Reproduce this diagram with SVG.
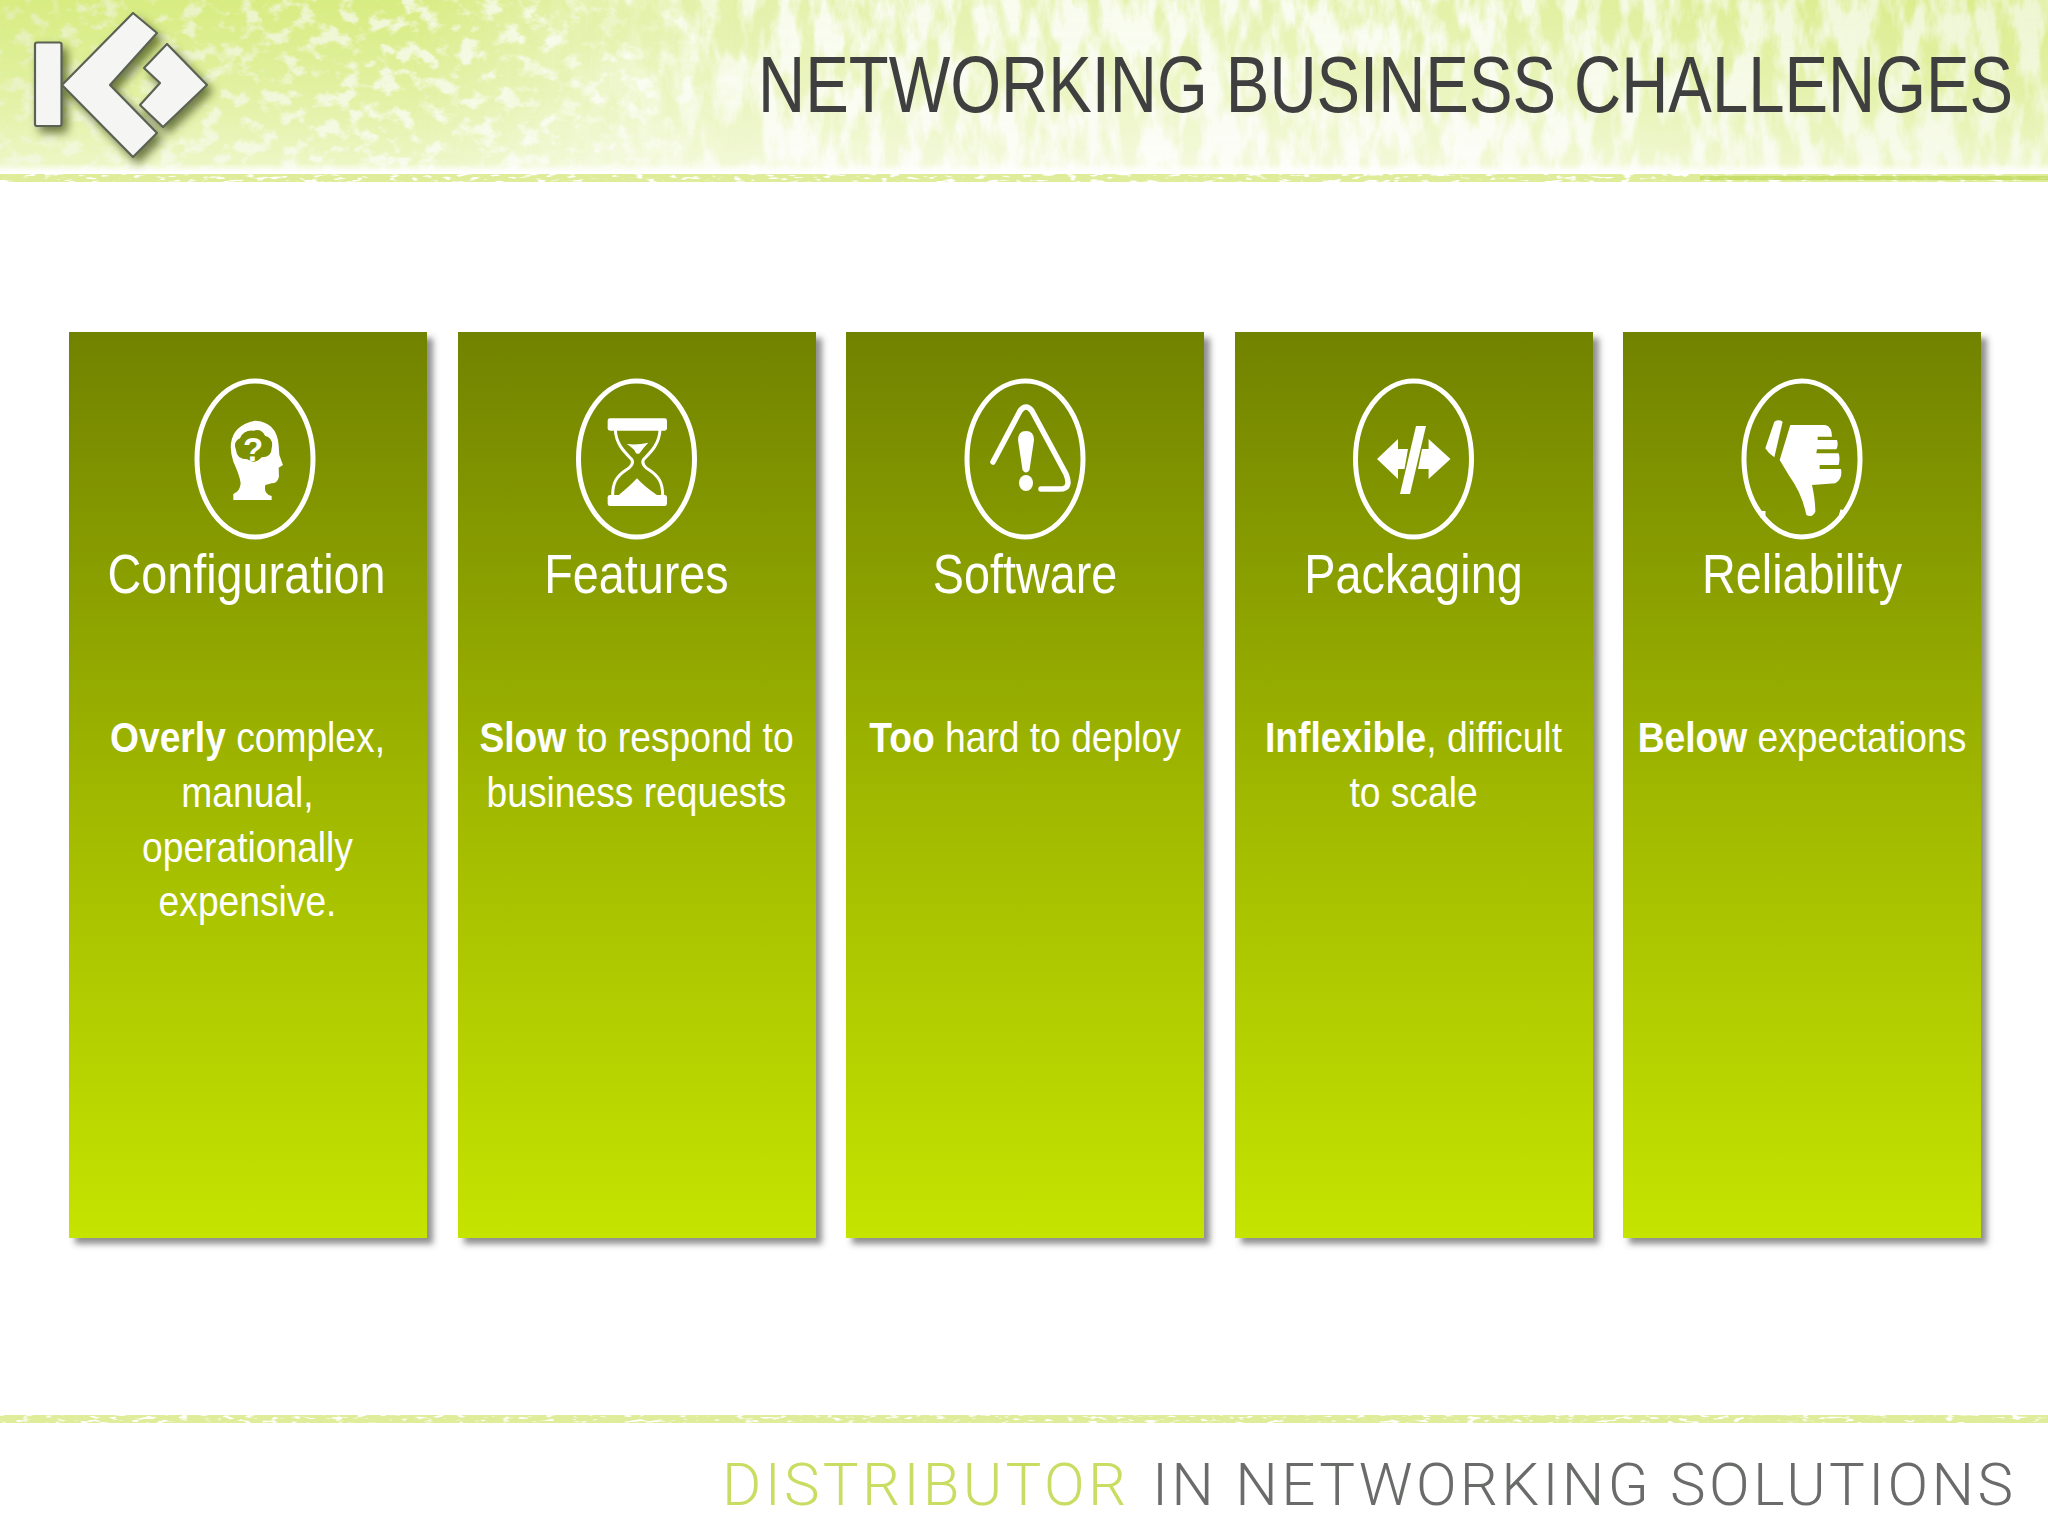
<svg xmlns="http://www.w3.org/2000/svg" width="2048" height="1536" viewBox="0 0 2048 1536">
<style>
text{font-family:"Liberation Sans",Arial,sans-serif;fill:#fff}
.h{font-size:55px;text-anchor:middle}
.b{font-size:42px;text-anchor:middle}
.b tspan{font-weight:700}
.card{fill:url(#cardGrad);filter:url(#cardShadow)}
.ring{fill:none;stroke:#fff;stroke-width:5}
.line{fill:none;stroke:#fff;stroke-linecap:round;stroke-linejoin:round}
.ico{fill:#fff}
.foot{font-family:"Roboto","Liberation Sans",sans-serif;font-weight:300;font-size:60px}
.logo{fill:#f5f5f4;stroke:#5c6252;stroke-width:2.2;stroke-linejoin:round}
</style>
<defs>
<linearGradient id="cardGrad" x1="0" y1="0" x2="0" y2="1"><stop offset="0" stop-color="#718200"/><stop offset=".5" stop-color="#9fb700"/><stop offset="1" stop-color="#c5e400"/></linearGradient>
<filter id="cardShadow" x="-5%" y="-5%" width="112%" height="110%"><feDropShadow dx="6" dy="6" stdDeviation="3" flood-color="#444" flood-opacity=".6"/></filter>
<filter id="logoShadow" x="-20%" y="-20%" width="150%" height="150%"><feDropShadow dx="5" dy="6" stdDeviation="5" flood-color="#44521a" flood-opacity=".75"/></filter>
<filter id="texA" x="0" y="0" width="100%" height="100%"><feTurbulence type="fractalNoise" baseFrequency=".05 .065" numOctaves="4" seed="7"/><feColorMatrix values="0 0 0 0 .68 0 0 0 0 .84 0 0 0 0 .22 5 0 0 0 -1.55"/></filter>
<filter id="texB" x="0" y="0" width="100%" height="100%"><feTurbulence type="fractalNoise" baseFrequency=".05 .018" numOctaves="4" seed="21"/><feColorMatrix values="0 0 0 0 .7 0 0 0 0 .84 0 0 0 0 .25 4 0 0 0 -1.5"/></filter>
<filter id="texL" x="0" y="0" width="100%" height="100%"><feTurbulence type="fractalNoise" baseFrequency=".09 .3" numOctaves="2" seed="4"/><feColorMatrix values="0 0 0 0 .74 0 0 0 0 .85 0 0 0 0 .33 7 0 0 0 -2"/></filter>
<linearGradient id="fadeA" x1="0" y1="0" x2="1" y2="0"><stop offset="0" stop-color="#fff"/><stop offset=".2" stop-color="#fff"/><stop offset=".38" stop-color="#000"/></linearGradient>
<linearGradient id="fadeB" x1="0" y1="0" x2="1" y2="0"><stop offset=".2" stop-color="#000"/><stop offset=".36" stop-color="#aaa"/><stop offset=".6" stop-color="#999"/><stop offset="1" stop-color="#fff"/></linearGradient>
<linearGradient id="fadeV" x1="0" y1="0" x2="0" y2="1"><stop offset="0" stop-color="#fff"/><stop offset=".55" stop-color="#bbb"/><stop offset=".95" stop-color="#777"/><stop offset="1" stop-color="#000"/></linearGradient>
<linearGradient id="tint" x1="0" y1="0" x2="1" y2="0"><stop offset="0" stop-color="#c4df62" stop-opacity=".5"/><stop offset=".3" stop-color="#c4df62" stop-opacity=".12"/><stop offset=".7" stop-color="#c4df62" stop-opacity=".1"/><stop offset="1" stop-color="#c4df62" stop-opacity=".3"/></linearGradient>
<mask id="mA" maskUnits="userSpaceOnUse" x="0" y="0" width="2048" height="172"><rect width="2048" height="172" fill="url(#fadeA)"/></mask>
<mask id="mB" maskUnits="userSpaceOnUse" x="0" y="0" width="2048" height="172"><rect width="2048" height="172" fill="url(#fadeB)"/></mask>
<mask id="mV" maskUnits="userSpaceOnUse" x="0" y="0" width="2048" height="172"><rect width="2048" height="172" fill="url(#fadeV)"/></mask>
</defs>
<rect width="2048" height="1536" fill="#fff"/>
<g id="banner">
<g mask="url(#mV)">
<rect width="2048" height="172" fill="url(#tint)"/>
<rect width="2048" height="172" filter="url(#texA)" mask="url(#mA)"/>
<rect width="2048" height="172" filter="url(#texB)" mask="url(#mB)"/>
</g>
<rect y="174" width="2048" height="8" filter="url(#texL)"/>
<rect x="1700" y="176" width="348" height="4" fill="#bcd855" opacity=".7"/>
</g>
<g id="logo">
<g filter="url(#logoShadow)">
<rect class="logo" x="35" y="42.5" width="26.5" height="83.5" rx="2"/>
<path class="logo" d="M133,13 L157,33 L110,85 L157,133 L133,157 L62,85 Z"/>
<path class="logo" d="M167,44 L207,85 L163,127 L140,105 L160,83 L144,68 Z"/>
</g>
</g>
<text id="title" transform="translate(2013,112) scale(.816,1)" text-anchor="end" style="font-size:80px;fill:#3f3f3f">NETWORKING BUSINESS CHALLENGES</text>
<g id="card-configuration">
<rect class="card" x="69" y="332" width="358" height="906"/>
<ellipse class="ring" cx="255" cy="459" rx="58" ry="78"/>
<g transform="translate(190,370) scale(.3333)">
<path class="ico" fill-rule="evenodd" d="M130,390 L130,372 Q150,365 152,340 Q150,318 130,275 Q120,245 123,220 Q130,165 195,152 Q260,155 266,225 L268,255 L279,285 L266,293 L267,320 Q262,340 245,340 L226,345 Q220,372 245,378 L245,390 Z M190,182 Q215,175 225,197 Q252,205 245,235 Q245,262 215,262 Q195,285 172,268 Q140,268 138,240 Q128,215 150,205 Q160,180 190,182 Z"/>
</g>
<text x="253" y="461" text-anchor="middle" style="font-size:33px;font-weight:700">?</text>
<text class="h" transform="translate(246.5,593) scale(.85,1)">Configuration</text>
<text class="b" transform="translate(247.5,752) scale(.886,1)"><tspan>Overly</tspan> complex,</text>
<text class="b" transform="translate(247.5,807) scale(.886,1)">manual,</text>
<text class="b" transform="translate(247.5,862) scale(.886,1)">operationally</text>
<text class="b" transform="translate(247.5,916) scale(.886,1)">expensive.</text>
</g>
<g id="card-features">
<rect class="card" x="458" y="332" width="358" height="906"/>
<ellipse class="ring" cx="636.5" cy="459" rx="58" ry="78"/>
<g transform="translate(571,370) scale(.3333)">
<rect class="ico" x="110" y="145" width="178" height="37" rx="7"/>
<rect class="ico" x="110" y="375" width="178" height="33" rx="7"/>
<path class="line" stroke-width="9" d="M133,180 C135,225 165,250 182,268 C190,280 178,293 165,300 C135,320 125,340 125,376 M267,180 C265,225 235,250 218,268 C210,280 222,293 235,300 C265,320 275,340 275,376"/>
<path class="ico" d="M167,222 Q200,226 232,218 Q215,235 206,250 Q196,256 190,240 Q178,228 167,222 Z"/>
<path class="ico" d="M140,378 Q180,345 198,325 Q220,350 262,378 Z"/>
</g>
<text class="h" transform="translate(636.5,593) scale(.85,1)">Features</text>
<text class="b" transform="translate(636.5,752) scale(.886,1)"><tspan>Slow</tspan> to respond to</text>
<text class="b" transform="translate(636.5,807) scale(.886,1)">business requests</text>
</g>
<g id="card-software">
<rect class="card" x="846" y="332" width="358" height="906"/>
<ellipse class="ring" cx="1025" cy="459" rx="58" ry="78"/>
<path class="line" stroke-width="5.5" d="M993,462 L1020,411 Q1026,403 1032,411 L1066,474 Q1072,489 1060,489 L1041,489"/>
<path class="ico" d="M1018,440 Q1018,431 1026,431 Q1034,431 1034,440 L1029.5,470 Q1026,475 1022.5,470 Z"/>
<ellipse class="ico" cx="1026" cy="483" rx="7" ry="8"/>
<text class="h" transform="translate(1025,593) scale(.85,1)">Software</text>
<text class="b" transform="translate(1025,752) scale(.886,1)"><tspan>Too</tspan> hard to deploy</text>
</g>
<g id="card-packaging">
<rect class="card" x="1235" y="332" width="358" height="906"/>
<ellipse class="ring" cx="1413.5" cy="459" rx="58" ry="78"/>
<path class="ico" d="M1416,426 L1426,426 L1410,494 L1400,494 Z"/>
<path class="ico" d="M1377,459 L1398,439 L1398,449 L1408,449 L1404.5,469 L1398,469 L1398,479 Z"/>
<path class="ico" d="M1450.5,459 L1428.6,439 L1428.6,449 L1422,449 L1418,469 L1428.6,469 L1428.6,479 Z"/>
<text class="h" transform="translate(1413.5,593) scale(.85,1)">Packaging</text>
<text class="b" transform="translate(1413.5,752) scale(.886,1)"><tspan>Inflexible</tspan>, difficult</text>
<text class="b" transform="translate(1413.5,807) scale(.886,1)">to scale</text>
</g>
<g id="card-reliability">
<rect class="card" x="1623" y="332" width="358" height="906"/>
<path class="ring" d="M1763,511 L1763,516.7 A58,78 0 0 0 1841,516.7 L1843,510"/>
<path class="ring" d="M1763,516.7 A58,78 0 1 1 1841,516.7"/>
<g transform="translate(1737,370) scale(.3333)">
<path class="ico" d="M112,155 Q125,147 137,155 L112,262 Q95,252 85,235 Z"/>
<path class="ico" d="M160,165 L265,165 Q285,170 285,200 L242,200 L242,210 L300,210 Q305,225 298,238 L240,238 L238,250 L305,250 Q310,265 305,285 L248,285 L248,297 L312,297 Q318,325 295,340 L225,345 Q235,390 235,425 Q225,445 208,435 Q195,370 155,315 Q140,290 128,270 Z"/>
</g>
<text class="h" transform="translate(1802,593) scale(.85,1)">Reliability</text>
<text class="b" transform="translate(1802,752) scale(.886,1)"><tspan>Below</tspan> expectations</text>
</g>
<g id="footer">
<rect y="1415" width="2048" height="8" filter="url(#texL)"/>
<text class="foot" x="722" y="1505" textLength="404" lengthAdjust="spacing" style="fill:#c9dd62">DISTRIBUTOR</text>
<text class="foot" x="1152" y="1505" textLength="861" lengthAdjust="spacing" style="fill:#6a6c6a">IN NETWORKING SOLUTIONS</text>
</g>
</svg>
